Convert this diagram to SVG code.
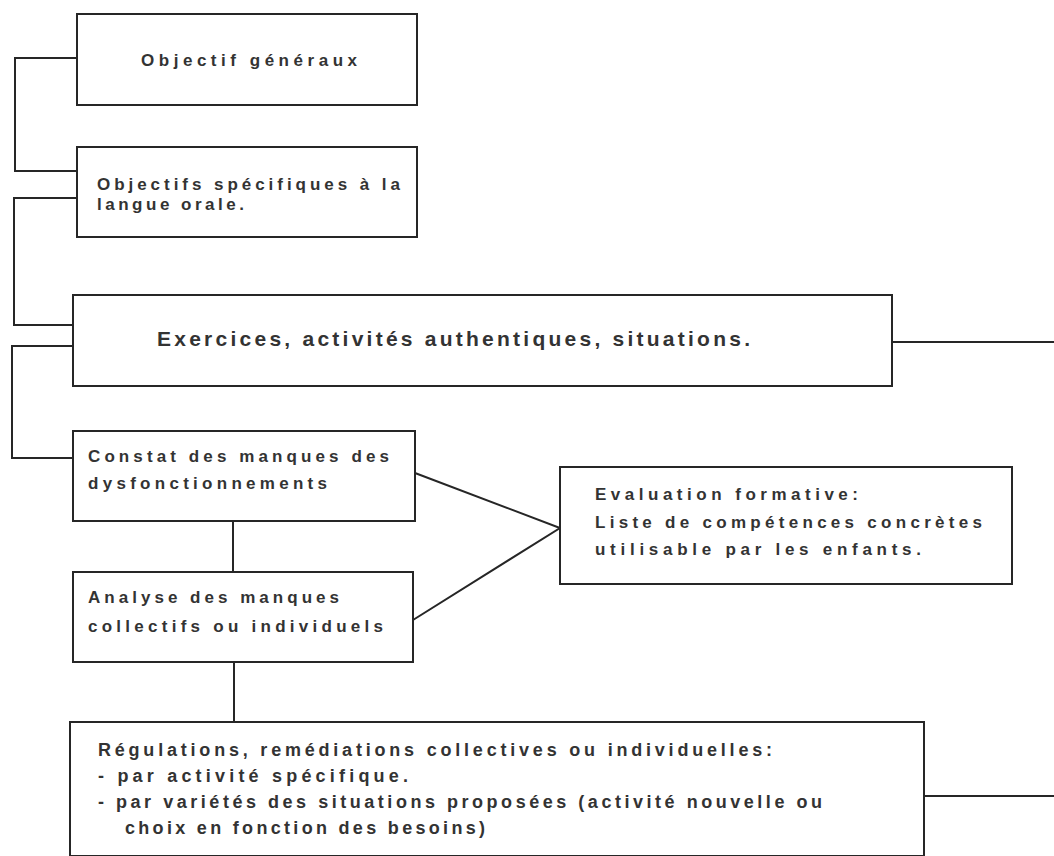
<svg xmlns="http://www.w3.org/2000/svg" width="1054" height="856" viewBox="0 0 1054 856">
<style>
.box{fill:#fff;stroke:#262626;stroke-width:2}
.ln{fill:none;stroke:#262626;stroke-width:2}
text{font-family:"Liberation Sans",Arial,sans-serif;font-weight:bold;fill:#333;font-size:17px}
.big{font-size:21px}
.cond{font-size:18px}
</style>
<rect width="1054" height="856" fill="#fff"/>
<g id="connectors">
<path class="ln" d="M77,58 H15 V171 H77"/>
<path class="ln" d="M77,198 H14 V325 H73"/>
<path class="ln" d="M73,346 H12 V458 H73"/>
<path class="ln" d="M892,342 H1054"/>
<path class="ln" d="M233,521 V572"/>
<path class="ln" d="M415,473 L560,528 L413,620"/>
<path class="ln" d="M234,662 V721"/>
<path class="ln" d="M924,796 H1054"/>
</g>
<g id="n1">
<rect class="box" x="77" y="14" width="340" height="91"/>
<text x="141" y="66" textLength="216" lengthAdjust="spacing">Objectif   généraux</text>
</g>
<g id="n2">
<rect class="box" x="77" y="147" width="340" height="90"/>
<text x="97" y="190" textLength="303" lengthAdjust="spacing">Objectifs spécifiques à la</text>
<text x="97" y="210" textLength="147" lengthAdjust="spacing">langue orale.</text>
</g>
<g id="n3">
<rect class="box" x="73" y="295" width="819" height="91"/>
<text class="big" x="157" y="346" textLength="593" lengthAdjust="spacing">Exercices,   activités   authentiques,   situations.</text>
</g>
<g id="n4">
<rect class="box" x="73" y="431" width="342" height="90"/>
<text x="88" y="462" textLength="301" lengthAdjust="spacing">Constat des manques des</text>
<text x="88" y="489" textLength="239" lengthAdjust="spacing">dysfonctionnements</text>
</g>
<g id="n5">
<rect class="box" x="73" y="572" width="340" height="90"/>
<text x="88" y="603" textLength="251" lengthAdjust="spacing">Analyse des manques</text>
<text x="88" y="632" textLength="295" lengthAdjust="spacing">collectifs ou individuels</text>
</g>
<g id="n6">
<rect class="box" x="560" y="467" width="452" height="117"/>
<text x="595" y="500" textLength="263" lengthAdjust="spacing">Evaluation   formative:</text>
<text x="595" y="528" textLength="387" lengthAdjust="spacing">Liste de compétences concrètes</text>
<text x="595" y="555" textLength="326" lengthAdjust="spacing">utilisable    par les enfants.</text>
</g>
<g id="n7">
<rect class="box" x="70" y="722" width="854" height="134"/>
<text class="cond" x="98" y="756" textLength="674" lengthAdjust="spacing">Régulations,  remédiations  collectives  ou  individuelles:</text>
<text class="cond" x="98" y="782" textLength="310" lengthAdjust="spacing">-  par  activité  spécifique.</text>
<text class="cond" x="98" y="808" textLength="724" lengthAdjust="spacing">- par variétés des situations proposées (activité nouvelle ou</text>
<text class="cond" x="125" y="834" textLength="360" lengthAdjust="spacing">choix en fonction des besoins)</text>
</g>
</svg>
